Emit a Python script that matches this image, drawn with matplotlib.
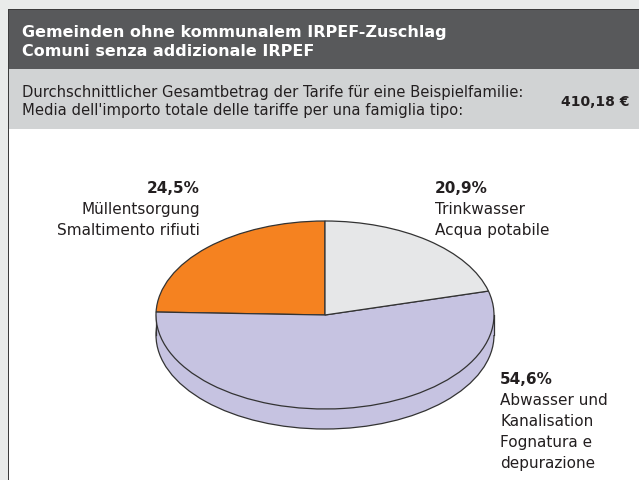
import matplotlib
matplotlib.use("Agg")
import matplotlib.pyplot as plt
from matplotlib.patches import Rectangle, Ellipse

# data
labels_de = ["Müllentsorgung", "Abwasser und\nKanalisation", "Trinkwasser"]
labels_it = ["Smaltimento rifiuti", "Fognatura e\ndepurazione", "Acqua potabile"]
shares = [24.5, 54.6, 20.9]
colors = ["#f58220", "#c6c3e1", "#e6e7e8"]

title_lines = ["Gemeinden ohne kommunalem IRPEF-Zuschlag", "Comuni senza addizionale IRPEF"]
sub_lines = ["Durchschnittlicher Gesamtbetrag der Tarife für eine Beispielfamilie:",
             "Media dell'importo totale delle tariffe per una famiglia tipo:"]
total = "410,18 €"

W, H = 639, 480
edge = "#333333"


def fx(x):
    return x / W


def fy(y):
    return 1 - y / H


fig = plt.figure(figsize=(W / 100, H / 100), dpi=100)
fig.patch.set_facecolor("#e9ebea")


def panel(x0, y0, w, h, color):
    fig.patches.append(Rectangle((fx(x0), fy(y0 + h)), w / W, h / H, transform=fig.transFigure,
                                 facecolor=color, edgecolor="none", zorder=-5))


# panel backgrounds
panel(8, 9, W, 60, "#58595b")
panel(8, 69, W, 60, "#d1d3d4")
panel(8, 129, W, H, "white")
panel(7.5, 9, 1.5, H, "#3c3c3c")
panel(8, 9, W, 1.2, "#3c3c3c")

# header texts
for i, t in enumerate(title_lines):
    fig.text(fx(22), fy(37 + 19 * i), t, color="white", fontsize=11.5, fontweight="bold",
             va="baseline", ha="left")
for i, t in enumerate(sub_lines):
    fig.text(fx(22), fy(97 + 18 * i), t, color="#231f20", fontsize=10.65,
             va="baseline", ha="left")
fig.text(fx(629), fy(105.5), total, color="#231f20", fontsize=10, fontweight="bold",
         va="baseline", ha="right")

# pie, squashed into an ellipse: 1 data unit = 169 px in x, 94 px in y
cx, cy, rx, ry, depth = 325, 315, 169, 94, 20
ax = fig.add_axes([0, 0, 1, 1])
ax.patch.set_alpha(0)
ax.set_zorder(2)
d = depth / ry

# side of the disc
ax.add_patch(Ellipse((0, -d), 2, 2, facecolor=colors[1], edgecolor=edge, linewidth=0.9, zorder=1))
ax.add_patch(Rectangle((-1, -d), 2, d, facecolor=colors[1], edgecolor="none", zorder=1.5))
ax.plot([-1, -1], [-d, 0], color=edge, linewidth=0.9, zorder=1.6)
ax.plot([1, 1], [-d, 0], color=edge, linewidth=0.9, zorder=1.6)

wedges, _ = ax.pie(shares, colors=colors, startangle=90, counterclock=True,
                   wedgeprops=dict(edgecolor=edge, linewidth=0.9))
for w in wedges:
    w.set_zorder(2)
ax.set_aspect("auto")
ax.set_xlim(-cx / rx, (W - cx) / rx)
ax.set_ylim(-(H - cy) / ry, cy / ry)
ax.axis("off")

# labels
lab_kw = dict(fontsize=11, color="#231f20", va="baseline")
label_pos = [(200, 193, "right"), (500, 384, "left"), (435, 193, "left")]
for (x, y, ha), s, de, it in zip(label_pos, shares, labels_de, labels_it):
    fig.text(fx(x), fy(y), f"{s:.1f}%".replace(".", ","), fontweight="bold", ha=ha, **lab_kw)
    lines = de.split("\n") + it.split("\n")
    for j, line in enumerate(lines):
        fig.text(fx(x), fy(y + 21 * (j + 1)), line, ha=ha, **lab_kw)

fig.savefig("out.png", dpi=100, facecolor=fig.get_facecolor())
